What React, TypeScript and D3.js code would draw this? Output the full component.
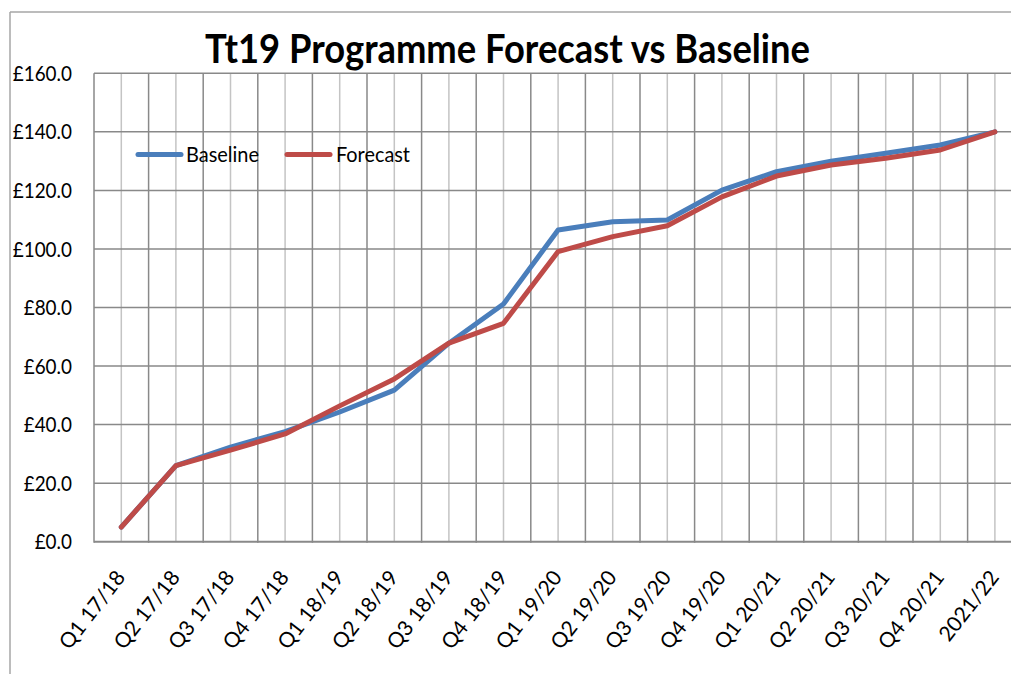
import React from "react";
import * as d3 from "d3";

const categories = [
  "Q1 17/18", "Q2 17/18", "Q3 17/18", "Q4 17/18",
  "Q1 18/19", "Q2 18/19", "Q3 18/19", "Q4 18/19",
  "Q1 19/20", "Q2 19/20", "Q3 19/20", "Q4 19/20",
  "Q1 20/21", "Q2 20/21", "Q3 20/21", "Q4 20/21",
  "2021/22",
];
const baseline = [5.0, 26.0, 32.3, 37.6, 44.3, 51.8, 67.8, 81.2, 106.5, 109.3, 109.9, 120.1, 126.4, 130.0, 132.7, 135.5, 140.0];
const forecast = [5.0, 26.0, 31.3, 36.8, 46.4, 55.6, 67.8, 74.6, 99.1, 104.2, 107.9, 117.8, 124.9, 128.7, 131.0, 133.8, 140.0];
const yTicks = [0, 20, 40, 60, 80, 100, 120, 140, 160];
const title = "Tt19 Programme Forecast vs Baseline";

const W = 1011;
const H = 674;
const FONT = "Lato, 'Open Sans', sans-serif";

export default function App() {
  const left = 94;
  const step = 54.6;
  const x = d3.scaleBand<string>().domain(categories).range([left, left + step * categories.length]).padding(0);
  const y = d3.scaleLinear().domain([0, 160]).range([541.7, 73.3]);
  const cx = (c: string) => (x(c) as number) + x.bandwidth() / 2;
  const line = d3.line<number>().x((_, i) => cx(categories[i])).y((d) => y(d));
  const right = left + step * categories.length;
  const dark = "#898989";
  const light = "#c4c4c4";
  const blue = "#4a7ebb";
  const red = "#be4b48";

  return (
    <div style={{ position: "absolute", left: 0, top: 0 }}>
      <svg width={W} height={H} style={{ display: "block", background: "#fff" }}>
        <rect x={0} y={0} width={W} height={H} fill="#fff" />
        {/* chart area border (cropped at right/bottom) */}
        <line x1={10} x2={10} y1={12} y2={H} stroke="#a6a6a6" strokeWidth={1.5} />
        <line x1={10} x2={W} y1={12} y2={12} stroke="#a6a6a6" strokeWidth={1.5} />
        {/* minor vertical gridlines at category centres */}
        {categories.map((c) => (
          <line key={"mv" + c} x1={cx(c)} x2={cx(c)} y1={y(160)} y2={y(0)} stroke={light} strokeWidth={1.5} />
        ))}
        {/* major vertical gridlines at category boundaries */}
        {categories.map((c) => (
          <line key={"Mv" + c} x1={x(c)} x2={x(c)} y1={y(160)} y2={y(0) + 1} stroke={dark} strokeWidth={1.5} />
        ))}
        <line x1={right} x2={right} y1={y(160)} y2={y(0)} stroke={dark} strokeWidth={1.5} />
        {/* horizontal gridlines */}
        {yTicks.map((t) => (
          <line key={"h" + t} x1={left} x2={right} y1={y(t)} y2={y(t)} stroke={dark} strokeWidth={t === 0 ? 2 : 1.5} />
        ))}
        {/* y tick labels */}
        {yTicks.map((t) => (
          <text
            key={"yl" + t}
            transform={`translate(72,${y(t)}) scale(0.9,1)`}
            dy="0.36em"
            textAnchor="end"
            fontFamily={FONT}
            fontSize={21}
            fill="#000"
          >
            {"£" + d3.format(".1f")(t)}
          </text>
        ))}
        {/* x tick labels */}
        {categories.map((c) => (
          <text
            key={"xl" + c}
            transform={`translate(${cx(c) + 5},${y(0) + 36}) rotate(-52)`}
            textAnchor="end"
            fontFamily={FONT}
            fontSize={21}
            fill="#000"
          >
            {c}
          </text>
        ))}
        {/* series */}
        <path d={line(baseline) || ""} fill="none" stroke={blue} strokeWidth={5} strokeLinejoin="round" strokeLinecap="round" />
        <path d={line(forecast) || ""} fill="none" stroke={red} strokeWidth={5} strokeLinejoin="round" strokeLinecap="round" />
        {/* legend */}
        <line x1={138} x2={181} y1={154.5} y2={154.5} stroke={blue} strokeWidth={5} strokeLinecap="round" />
        <text x={186} y={154.5} dy="0.36em" fontFamily={FONT} fontSize={21} textLength={73} lengthAdjust="spacingAndGlyphs" fill="#000">Baseline</text>
        <line x1={287} x2={330} y1={154.5} y2={154.5} stroke={red} strokeWidth={5} strokeLinecap="round" />
        <text x={336} y={154.5} dy="0.36em" fontFamily={FONT} fontSize={21} textLength={74} lengthAdjust="spacingAndGlyphs" fill="#000">Forecast</text>
        {/* title */}
        <text x={205} y={63} fontFamily={FONT} fontWeight={700} fontSize={41} textLength={605} lengthAdjust="spacingAndGlyphs" fill="#000">
          {title}
        </text>
      </svg>
    </div>
  );
}
